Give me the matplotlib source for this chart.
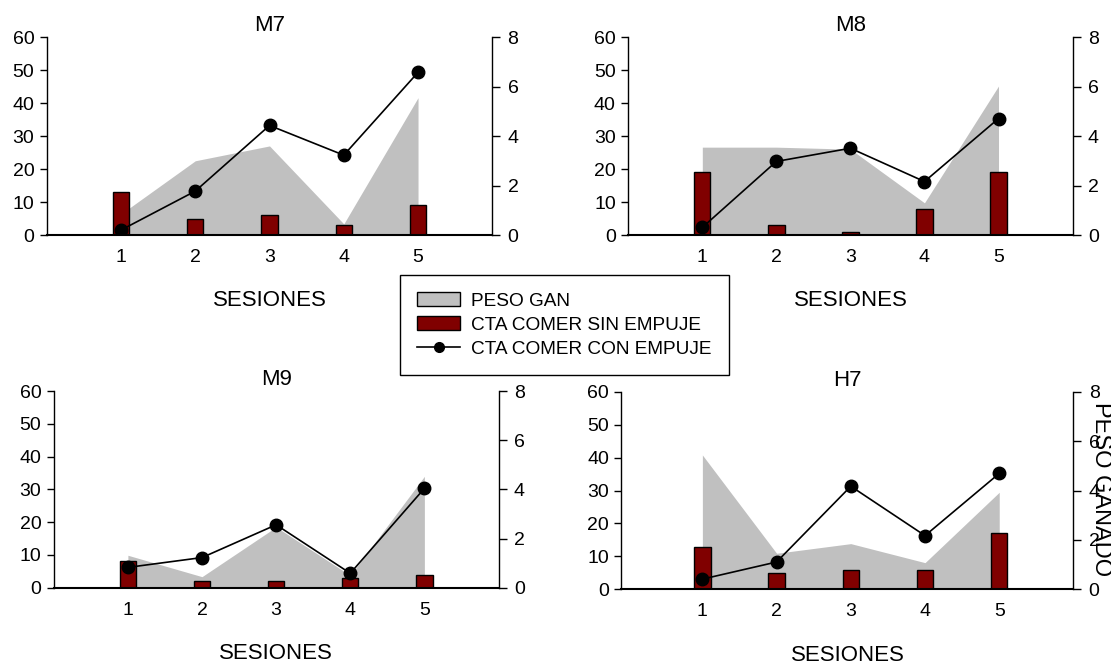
import numpy as np
import matplotlib.pyplot as plt
from matplotlib.patches import Patch
from matplotlib.lines import Line2D

plt.rcParams['font.family'] = ['Liberation Sans', 'DejaVu Sans']

sesiones = [1, 2, 3, 4, 5]
titulos = ['M7', 'M8', 'M9', 'H7']

# peso ganado (eje derecho, 0-8)
peso_m7 = [0.85, 3.0, 3.6, 0.45, 5.55]
peso_m8 = [3.55, 3.55, 3.47, 1.3, 6.02]
peso_m9 = [1.32, 0.45, 2.47, 0.5, 4.53]
peso_h7 = [5.44, 1.46, 1.85, 1.08, 3.93]

# conducta comer sin empuje (eje izquierdo, 0-60)
sin_m7 = [13, 5, 6, 3, 9]
sin_m8 = [19, 3, 1, 8, 19]
sin_m9 = [8, 2, 2, 3, 4]
sin_h7 = [13, 5, 6, 6, 17]

# conducta comer con empuje (eje izquierdo)
con_m7 = [1.5, 13.3, 33.2, 24.2, 49.3]
con_m8 = [2.3, 22.3, 26.3, 16.2, 35.3]
con_m9 = [6.2, 9.2, 19.2, 4.4, 30.3]
con_h7 = [3.1, 8.3, 31.3, 16.3, 35.2]

pesos = [peso_m7, peso_m8, peso_m9, peso_h7]
sins = [sin_m7, sin_m8, sin_m9, sin_h7]
cons = [con_m7, con_m8, con_m9, con_h7]

# posiciones de los ejes en fraccion de figura
posiciones = [
    [0.0421, 0.6466, 0.4010, 0.2977],
    [0.5655, 0.6466, 0.3999, 0.2977],
    [0.0484, 0.1162, 0.4003, 0.2958],
    [0.5594, 0.1138, 0.4068, 0.2971],
]
xlims = [(0, 6), (0, 6), (0, 6), (-0.09, 6)]

gris = '#c0c0c0'
rojo = '#800000'

fig = plt.figure(figsize=(11.11, 6.65), dpi=100)

for i in range(4):
    ax = fig.add_axes(posiciones[i])
    ax2 = ax.twinx()
    ax.set_zorder(2)
    ax2.set_zorder(1)
    ax.patch.set_visible(False)

    ax2.fill_between(sesiones, 0, pesos[i], color=gris, linewidth=0)
    ax.bar(sesiones, sins[i], width=0.22, color=rojo, edgecolor='black', linewidth=1)
    ax.plot(sesiones, cons[i], '-o', color='black', linewidth=1.2, markersize=9)

    ax.set_xlim(*xlims[i])
    ax.set_ylim(0, 60)
    ax2.set_ylim(0, 8)
    ax.set_yticks([0, 10, 20, 30, 40, 50, 60])
    ax2.set_yticks([0, 2, 4, 6, 8])
    ax.set_xticks(sesiones)

    for a in (ax, ax2):
        a.spines['top'].set_visible(False)
    ax.spines['right'].set_visible(False)
    ax2.spines['left'].set_visible(False)
    ax2.spines['bottom'].set_visible(False)
    ax.spines['bottom'].set_linewidth(1.5)
    ax.spines['left'].set_linewidth(1)
    ax2.spines['right'].set_linewidth(1)

    ax.tick_params(axis='x', length=0, pad=10, labelsize=14)
    ax.tick_params(axis='y', length=5, width=1, pad=4, labelsize=14)
    ax2.tick_params(axis='y', length=6, width=1, pad=5, labelsize=14)

    ax.set_title(titulos[i], fontsize=16, pad=4)
    ax.set_xlabel('SESIONES', fontsize=16, labelpad=17.5)

fig.text(1101 / 1111, 1 - 489 / 665, 'PESO GANADO', rotation=-90,
         ha='center', va='center', fontsize=17)

handles = [
    Patch(facecolor=gris, edgecolor='black', linewidth=1),
    Patch(facecolor=rojo, edgecolor='black', linewidth=1),
    Line2D([], [], color='black', marker='o', markersize=7, linewidth=1.2),
]
etiquetas = ['PESO GAN', 'CTA COMER SIN EMPUJE', 'CTA COMER CON EMPUJE']
leg = fig.legend(handles, etiquetas, loc='center', bbox_to_anchor=(0.5077, 0.5113),
                 fontsize=13.7, frameon=True, fancybox=False, framealpha=1,
                 edgecolor='black', handlelength=2.3, handleheight=0.7,
                 handletextpad=0.55, labelspacing=0.35, borderpad=0.9)
leg.get_frame().set_linewidth(1)

fig.savefig('out.png', dpi=100)
